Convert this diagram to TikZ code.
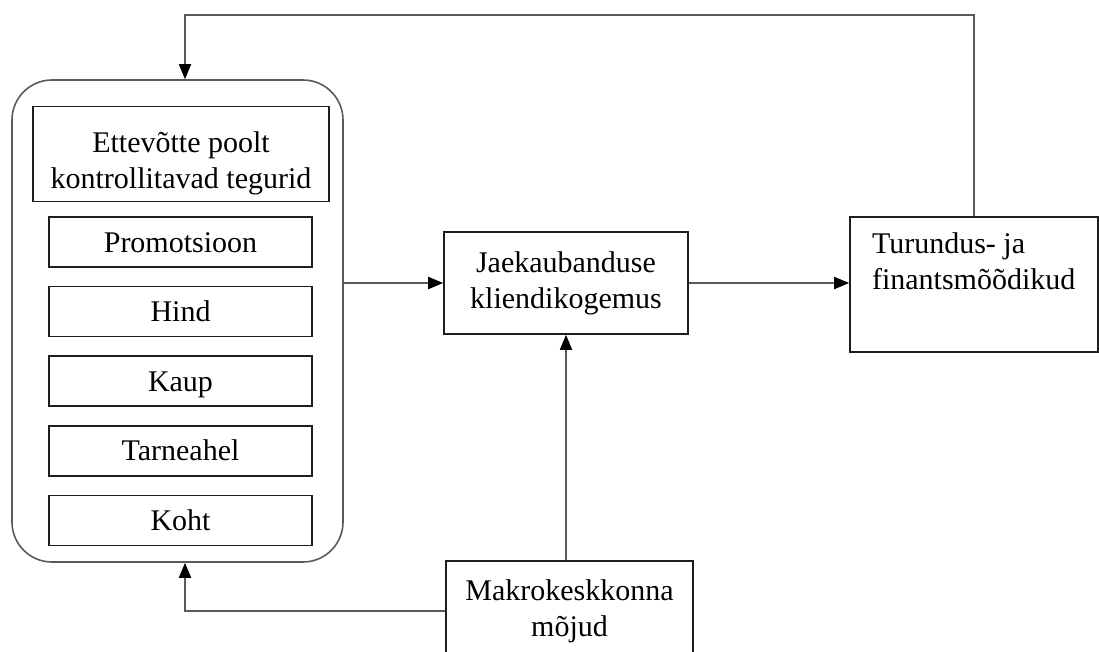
\documentclass[tikz,border=0pt]{standalone}
\usepackage{fontspec}
\setmainfont{Liberation Serif}
\newfontfamily\figserif{Liberation Serif}
\usetikzlibrary{positioning, arrows.meta}
\definecolor{linegray}{HTML}{5A5A5A}
\definecolor{boxline}{HTML}{1E1E1E}

\begin{document}
\begin{tikzpicture}[
  x=1pt, y=-1pt,
  font=\figserif\fontsize{30}{36}\selectfont,
  box/.style={rectangle, draw=boxline, line width=1.6pt, fill=white, align=center, inner sep=0pt},
  item/.style={box, minimum width=263pt, minimum height=50pt, text height=21pt, text depth=1pt},
  arrow/.style={-{Triangle[length=15pt, width=12pt, color=black]}, draw=linegray, line width=1.8pt}
]
  \useasboundingbox (0,0) rectangle (1099,651);
  \clip (0,0) rectangle (1099,651);

  % container of the controllable factors
  \node[draw=linegray, line width=1.6pt, rounded corners=40pt, minimum width=331pt, minimum height=482pt] (outer) at (177.5,321) {};
  \node[box, minimum width=296pt, minimum height=95pt] (title) at (181,154) {\rule{0pt}{39pt}Ettevõtte poolt\\kontrollitavad tegurid};
  \node[item] (prom) at (180.5,242) {Promotsioon};
  \node[item, below=18pt of prom] (hind) {Hind};
  \node[item, below=18pt of hind] (kaup) {Kaup};
  \node[item, below=18pt of kaup] (tarne) {Tarneahel};
  \node[item, below=18pt of tarne] (koht) {Koht};

  \node[box, minimum width=244pt, minimum height=102pt] (jaek) at (566,283) {Jaekaubanduse\\kliendikogemus};
  \node[box, minimum width=248pt, minimum height=135pt, inner xsep=22pt, inner ysep=16pt] (fin) at (974,284.5)
    {\parbox[t][103pt][t]{204pt}{\raggedright Turundus- ja\\finantsmõõdikud}};
  \node[box, minimum width=247pt, minimum height=100pt] (mak) at (569.5,611) {Makrokeskkonna\\mõjud};

  \coordinate (loop) at (185,15);
  \draw[arrow] (outer.east |- jaek.west) -- (jaek.west);
  \draw[arrow] (jaek.east) -- (jaek.east -| fin.west);
  \draw[arrow] (mak.north -| jaek.south) -- (jaek.south);
  \draw[arrow] (mak.west) -| (loop |- outer.south);
  \draw[arrow] (fin.north) |- (loop) -- (loop |- outer.north);
\end{tikzpicture}
\end{document}
